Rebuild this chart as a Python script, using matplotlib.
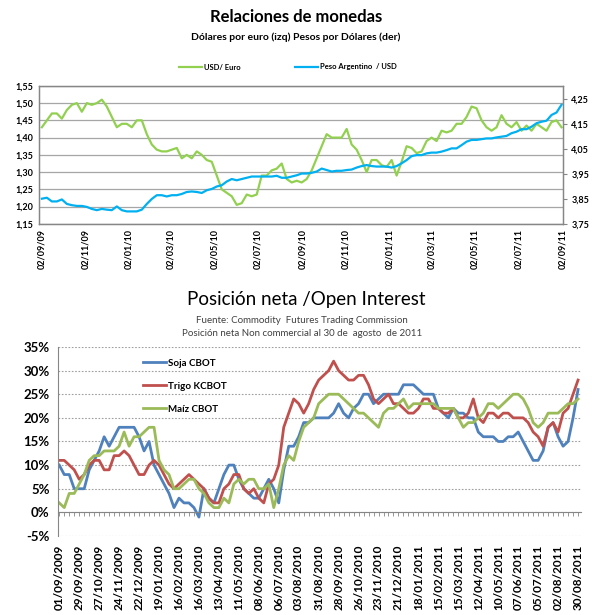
import numpy as np
import pandas as pd
import matplotlib
matplotlib.use("Agg")
import matplotlib.pyplot as plt
import matplotlib.dates as mdates
from matplotlib.ticker import FuncFormatter

plt.rcParams['font.family'] = ['Lato', 'DejaVu Sans']

# --- top chart: weekly readings, 02/09/2009 .. 31/08/2011 ---
top_dates = pd.date_range('2009-09-02', periods=105, freq='7D')
usd_euro = [1.43, 1.45, 1.47, 1.47, 1.455, 1.48, 1.495, 1.50, 1.475, 1.50,
            1.495, 1.50, 1.51, 1.49, 1.46, 1.43, 1.44, 1.44, 1.43, 1.45,
            1.45, 1.41, 1.38, 1.365, 1.36, 1.36, 1.365, 1.37, 1.34, 1.35,
            1.34, 1.36, 1.35, 1.335, 1.33, 1.29, 1.25, 1.24, 1.23, 1.205,
            1.21, 1.235, 1.23, 1.235, 1.29, 1.29, 1.305, 1.31, 1.325, 1.28,
            1.27, 1.275, 1.27, 1.28, 1.305, 1.34, 1.375, 1.41, 1.40, 1.40,
            1.40, 1.425, 1.38, 1.365, 1.335, 1.30, 1.335, 1.335, 1.32, 1.315,
            1.335, 1.29, 1.33, 1.375, 1.37, 1.355, 1.36, 1.39, 1.40, 1.39,
            1.42, 1.415, 1.42, 1.44, 1.44, 1.46, 1.49, 1.485, 1.45, 1.43,
            1.42, 1.43, 1.465, 1.44, 1.43, 1.445, 1.42, 1.435, 1.42, 1.44,
            1.43, 1.42, 1.445, 1.45, 1.43]
peso_usd = [3.851, 3.855, 3.84, 3.84, 3.848, 3.83, 3.825, 3.822, 3.822, 3.818,
            3.81, 3.805, 3.81, 3.807, 3.805, 3.82, 3.805, 3.80, 3.80, 3.80,
            3.807, 3.83, 3.85, 3.865, 3.865, 3.86, 3.865, 3.865, 3.87, 3.878,
            3.88, 3.878, 3.874, 3.885, 3.89, 3.90, 3.905, 3.92, 3.93, 3.925,
            3.93, 3.935, 3.94, 3.94, 3.94, 3.94, 3.94, 3.943, 3.935, 3.935,
            3.94, 3.945, 3.952, 3.952, 3.955, 3.96, 3.972, 3.966, 3.96, 3.963,
            3.963, 3.966, 3.968, 3.976, 3.982, 3.986, 3.982, 3.98, 3.98, 3.98,
            3.976, 3.982, 3.993, 4.006, 4.022, 4.026, 4.026, 4.033, 4.036, 4.036,
            4.04, 4.046, 4.053, 4.053, 4.066, 4.08, 4.087, 4.087, 4.09, 4.093,
            4.093, 4.097, 4.10, 4.103, 4.114, 4.12, 4.13, 4.13, 4.14, 4.154,
            4.16, 4.164, 4.187, 4.197, 4.228]

# --- bottom chart: weekly net position (%), 01/09/2009 .. 30/08/2011 ---
weeks = pd.date_range('2009-09-01', periods=105, freq='7D')
soja = [10, 8, 8, 5, 5, 5, 9, 11, 13, 16, 14, 16, 18, 18, 18, 18, 16, 13, 15, 10,
        8, 6, 4, 1, 3, 2, 2, 1, -1, 5, 3, 2, 5, 8, 10, 10, 7, 5, 4, 3,
        3, 5, 7, 5, 2, 9, 14, 14, 16, 19, 19, 20, 20, 20, 20, 21, 23, 21, 20, 22,
        23, 25, 25, 23, 24, 25, 25, 25, 25, 27, 27, 27, 26, 25, 25, 25, 22, 21, 20, 22,
        21, 21, 20, 20, 17, 16, 16, 16, 15, 15, 16, 16, 17, 15, 13, 11, 11, 13, 18, 19,
        16, 14, 15, 20, 26]
trigo = [11, 11, 10, 9, 7, 8, 10, 11, 11, 9, 9, 12, 12, 13, 12, 10, 8, 8, 10, 11,
         10, 8, 6, 5, 6, 7, 8, 7, 6, 5, 3, 2, 2, 5, 6, 8, 8, 5, 4, 5,
         3, 2, 6, 7, 10, 18, 21, 24, 23, 21, 23, 26, 28, 29, 30, 32, 30, 29, 28, 28,
         29, 29, 27, 24, 23, 24, 25, 23, 23, 22, 21, 21, 22, 24, 24, 22, 22, 21, 21, 22,
         20, 20, 21, 24, 20, 19, 21, 21, 20, 21, 21, 20, 20, 20, 19, 17, 16, 14, 18, 19,
         17, 21, 22, 25, 28]
maiz = [2, 1, 4, 4, 6, 8, 11, 12, 12, 13, 13, 13, 14, 17, 14, 16, 16, 17, 18, 18,
        11, 9, 8, 5, 5, 6, 7, 7, 5, 4, 2, 1, 1, 3, 2, 6, 7, 6, 7, 7,
        5, 5, 6, 1, 5, 10, 12, 11, 15, 18, 19, 20, 23, 24, 25, 25, 25, 24, 23, 22,
        21, 21, 20, 19, 18, 21, 22, 22, 23, 24, 22, 23, 23, 23, 23, 23, 22, 22, 22, 22,
        20, 18, 19, 19, 20, 21, 23, 23, 22, 23, 24, 25, 25, 24, 22, 19, 18, 19, 21, 21,
        21, 22, 23, 23, 24]

comma = FuncFormatter(lambda v, p: f'{v:.2f}'.replace('.', ','))
axis_gray = '#868686'

fig = plt.figure(figsize=(5.92, 6.15), dpi=100)

# ================= top chart =================
fig.text(0.5, 1 - 17 / 615, 'Relaciones de monedas', ha='center', va='center',
         fontsize=12, fontweight='bold')
fig.text(0.5, 1 - 37 / 615, 'Dólares por euro (izq) Pesos por Dólares (der)',
         ha='center', va='center', fontsize=7.5, fontweight='bold')

ax1 = fig.add_axes([0.0659, 0.636, 0.885, 0.2244])
ax1r = ax1.twinx()
l1, = ax1.plot(top_dates, usd_euro, color='#92D050', lw=1.6, label='USD/ Euro')
l2, = ax1r.plot(top_dates, peso_usd, color='#00B0F0', lw=1.6, label='Peso Argentino  / USD')

ax1.set_ylim(1.15, 1.55)
ax1.set_yticks(np.arange(1.15, 1.551, 0.05))
ax1.yaxis.set_major_formatter(comma)
ax1.grid(axis='y', color='#A6A6A6', lw=0.9)
ax1r.set_ylim(3.75, 4.304)
ax1r.set_yticks(np.arange(3.75, 4.26, 0.1))
ax1r.yaxis.set_major_formatter(comma)

ax1.set_xlim(pd.Timestamp('2009-08-29'), pd.Timestamp('2011-09-02'))
xt = pd.date_range('2009-09-01', '2011-09-01', freq='2MS') + pd.Timedelta(days=1)
ax1.set_xticks(xt)
ax1.xaxis.set_major_formatter(mdates.DateFormatter('%d/%m/%y'))
ax1.tick_params(axis='x', rotation=90, labelsize=6.5, length=0, pad=4)
ax1.tick_params(axis='y', labelsize=6.5, length=0, pad=4)
ax1r.tick_params(axis='y', labelsize=6.5, length=3, color=axis_gray, pad=3)
for lab in ax1.get_xticklabels() + ax1.get_yticklabels() + ax1r.get_yticklabels():
    lab.set_fontweight('bold')
for a in (ax1, ax1r):
    for s in a.spines.values():
        s.set_color(axis_gray)
        s.set_linewidth(0.9)

fig.legend(handles=[l1, l2], loc='center', bbox_to_anchor=(0.486, 1 - 67 / 615),
           ncol=2, frameon=False, prop={'size': 5.5, 'weight': 'bold'},
           handlelength=3.0, handletextpad=0.2, columnspacing=7.2)

# ================= bottom chart =================
fig.text(0.517, 1 - 300 / 615, 'Posición neta /Open Interest', ha='center', va='center',
         fontsize=13.5)
fig.text(0.51, 1 - 320 / 615, 'Fuente: Commodity  Futures Trading Commission',
         ha='center', va='center', fontsize=7, color='#404040')
fig.text(0.51, 1 - 334 / 615, 'Posición neta Non commercial al 30 de  agosto  de 2011',
         ha='center', va='center', fontsize=7, color='#404040')

ax2 = fig.add_axes([0.098, 0.1285, 0.8835, 0.3073])
x = np.arange(len(weeks))
ax2.plot(x, soja, color='#4F81BD', lw=2.0, label='Soja CBOT')
ax2.plot(x, trigo, color='#C0504D', lw=2.0, label='Trigo KCBOT')
ax2.plot(x, maiz, color='#9BBB59', lw=2.0, label='Maíz CBOT')

ax2.set_ylim(-5, 35)
ax2.set_yticks(np.arange(-5, 36, 5))
ax2.yaxis.set_major_formatter(FuncFormatter(lambda v, p: f'{v:.0f}%'))
ax2.grid(axis='y', color='#A0A0A0', ls=(0, (1.5, 1.5)), lw=0.8)
ax2.set_xlim(-0.25, 104.6)
ax2.tick_params(axis='y', labelsize=9.5, length=0, pad=6)
for lab in ax2.get_yticklabels():
    lab.set_fontweight('bold')

for side in ('top', 'right'):
    ax2.spines[side].set_visible(False)
ax2.spines['left'].set_color(axis_gray)
ax2.spines['bottom'].set_position(('data', 0))
ax2.spines['bottom'].set_color(axis_gray)
ax2.set_xticks([])
ax2.set_xticks(x, minor=True)
ax2.tick_params(axis='x', which='minor', length=3, color=axis_gray, direction='out')

sec = ax2.secondary_xaxis(0)
sec.set_xticks(x[::4], [d.strftime('%d/%m/%Y') for d in weeks[::4]])
sec.tick_params(axis='x', rotation=90, labelsize=8.5, length=0, pad=6)
sec.spines['bottom'].set_visible(False)
for lab in sec.get_xticklabels():
    lab.set_fontweight('bold')

ax2.legend(loc='upper left', bbox_to_anchor=(0.145, 0.985), frameon=False,
           prop={'size': 7, 'weight': 'bold'}, labelspacing=1.45,
           handlelength=2.4, handletextpad=0.2)

fig.savefig('out.png', dpi=100)
